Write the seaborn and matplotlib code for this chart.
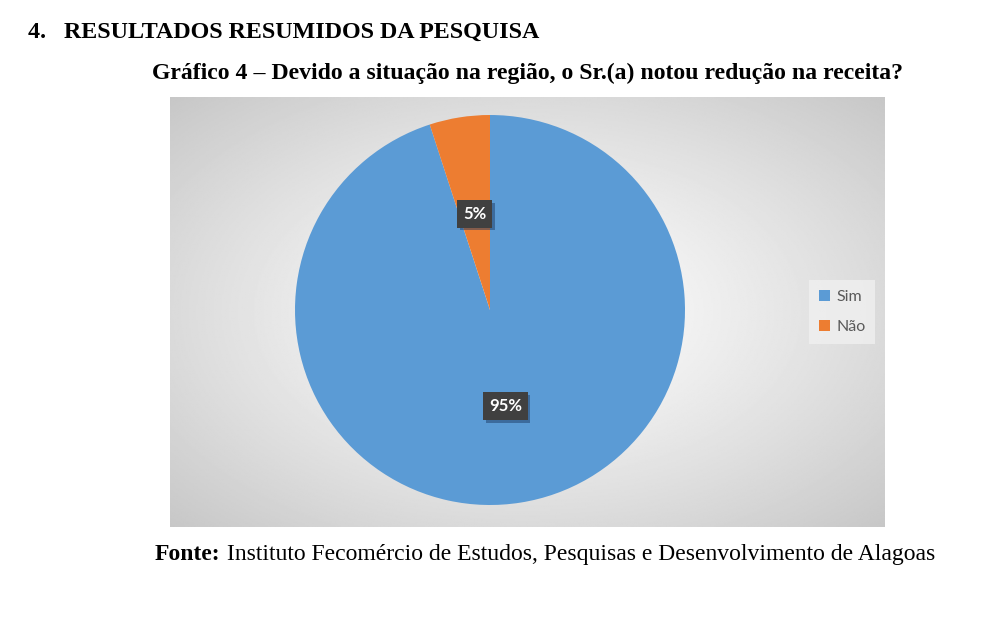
import numpy as np
import seaborn as sns
import matplotlib.pyplot as plt
from matplotlib import patheffects as pe
from matplotlib.patches import Patch

# === Dados ===
categorias = ['Sim', 'Não']
percentuais = [95, 5]
cores = ['#5B9BD5', '#ED7D31']

titulo_secao = '4.   RESULTADOS RESUMIDOS DA PESQUISA'
titulo_grafico = 'Gráfico 4 – Devido a situação na região, o Sr.(a) notou redução na receita?'
fonte_rotulo = 'Fonte:'
fonte_texto = ' Instituto Fecomércio de Estudos, Pesquisas e Desenvolvimento de Alagoas'

sns.set_style('white')
plt.rcParams['font.family'] = ['Lato', 'DejaVu Sans']
paleta = sns.color_palette(cores)

W, H = 984, 620
fig = plt.figure(figsize=(W / 100, H / 100), dpi=100)
fig.patch.set_facecolor('white')

def box(x0, y0, x1, y1):
    return [x0 / W, 1 - y1 / H, (x1 - x0) / W, (y1 - y0) / H]

# === Fundo com gradiente radial ===
ax_bg = fig.add_axes(box(170, 97, 885, 527))
yy, xx = np.mgrid[-1:1:300j, -1:1:500j]
r = np.sqrt(xx ** 2 + yy ** 2) / np.sqrt(2)
grad = 1.0 - 0.22 * np.clip(r, 0, 1) ** 1.2
ax_bg.imshow(grad, cmap='gray', vmin=0, vmax=1, aspect='auto', extent=[0, 1, 0, 1])
ax_bg.set_axis_off()

# === Pizza ===
ax = fig.add_axes(box(295, 115, 685, 505))
wedges, texts, autotexts = ax.pie(
    percentuais, colors=paleta, startangle=90, counterclock=False,
    autopct='%d%%', pctdistance=0.5,
    wedgeprops=dict(linewidth=0),
    textprops=dict(color='white', fontsize=12, fontweight='bold'))
for t in autotexts:
    t.set_bbox(dict(boxstyle='square,pad=0.35', facecolor='#404040', edgecolor='none'))
    t.get_bbox_patch().set_path_effects([pe.withSimplePatchShadow(offset=(2, -2), shadow_rgbFace='#1F3D66', alpha=0.5)])
ax.set_xlim(-1, 1)
ax.set_ylim(-1, 1)
ax.set_aspect('equal')

# === Legenda ===
handles = [Patch(facecolor=c, edgecolor='none') for c in paleta]
leg = fig.legend(handles, categorias, loc='center', bbox_to_anchor=(842 / W, 1 - 312 / H),
                 frameon=True, fontsize=11.5, handlelength=0.7, handleheight=0.7,
                 handletextpad=0.4, labelspacing=1.0, borderpad=0.6, fancybox=False)
leg.get_frame().set_facecolor('#F0F0F0')
leg.get_frame().set_edgecolor('none')
for t in leg.get_texts():
    t.set_color('#595959')

# === Textos ===
serif = ['Liberation Serif', 'DejaVu Serif']
fig.text(28 / W, 1 - 32 / H, titulo_secao, family=serif, fontweight='bold',
         fontsize=17.3, va='center', ha='left', color='black')
fig.text(527 / W, 1 - 73 / H, titulo_grafico, family=serif, fontweight='bold',
         fontsize=17.1, va='center', ha='center', color='black')
t1 = fig.text(155 / W, 1 - 560 / H, fonte_rotulo, family=serif, fontweight='bold',
              fontsize=17, va='baseline', ha='left', color='black')
fig.canvas.draw()
bb = t1.get_window_extent()
fig.text(bb.x1 / W, 1 - 560 / H, fonte_texto, family=serif, fontsize=17,
         va='baseline', ha='left', color='black')

plt.savefig('out.png', dpi=100)
